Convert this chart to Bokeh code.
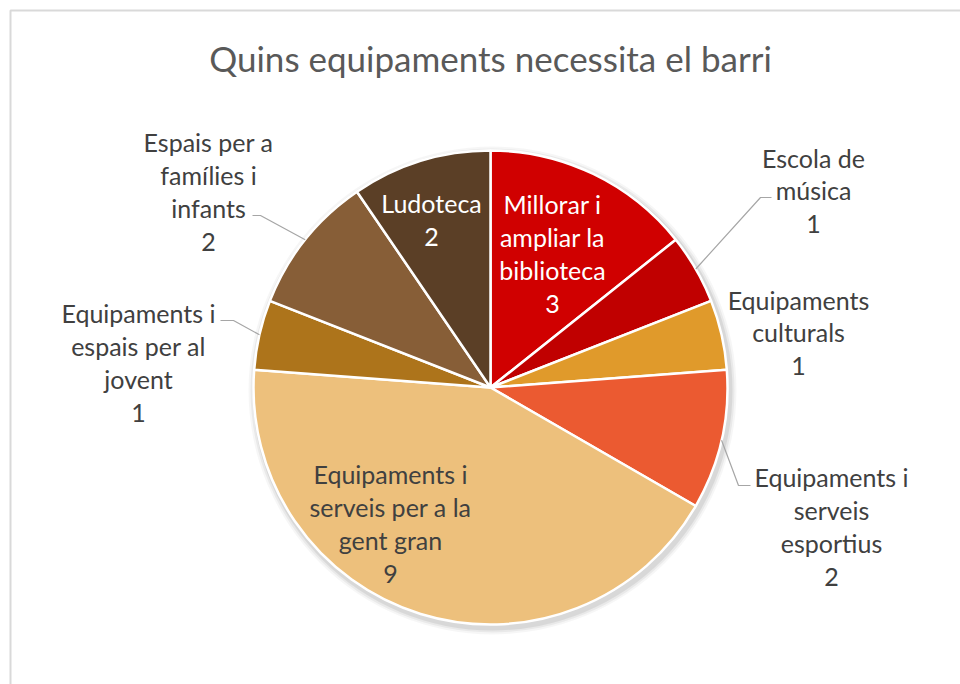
import math
from bokeh.plotting import figure
from bokeh.models import Range1d, ColumnDataSource
from bokeh.core.properties import value
from bokeh.embed import file_html
from bokeh.resources import INLINE

# ---- data ----
categories = [
    "Millorar i ampliar la biblioteca",
    "Escola de música",
    "Equipaments culturals",
    "Equipaments i serveis esportius",
    "Equipaments i serveis per a la gent gran",
    "Equipaments i espais per al jovent",
    "Espais per a famílies i infants",
    "Ludoteca",
]
counts = [3, 1, 1, 2, 9, 1, 2, 2]
colors = ["#D00000", "#C00000", "#E09A2B", "#EB5A31",
          "#EDC07C", "#AD741B", "#875E37", "#5B3F26"]
wrapped = [
    "Millorar i\nampliar la\nbiblioteca",
    "Escola de\nmúsica",
    "Equipaments\nculturals",
    "Equipaments i\nserveis\nesportius",
    "Equipaments i\nserveis per a la\ngent gran",
    "Equipaments i\nespais per al\njovent",
    "Espais per a\nfamílies i\ninfants",
    "Ludoteca",
]
title_text = "Quins equipaments necessita el barri"

# ---- layout (page pixel coordinates) ----
W, H = 960, 684
def py(y):  # page y -> data y (y up)
    return H - y

CX, CY, R = 490, py(387), 237
label_pos = [(552, 253), (813, 190), (798, 332), (831, 526),
             (390, 523), (138, 362), (208, 191), (431, 219)]
label_color = ["white", "#404040", "#404040", "#404040",
               "#404040", "#404040", "#404040", "white"]
leader = [None, ((760, 197), (771, 197)), None, ((738, 485), (750, 485)),
          None, ((233, 320), (220, 320)), ((260, 215), (252, 215)), None]

p = figure(width=W, height=H, output_backend="svg", toolbar_location=None,
           x_range=Range1d(0, W), y_range=Range1d(0, H),
           min_border=0, outline_line_color=None)
p.axis.visible = False
p.grid.visible = False
p.background_fill_color = "white"
p.border_fill_color = "white"

# chart border (left/top visible)
p.quad(left=[10], right=[2000], top=[py(10)], bottom=[-1000],
       fill_color=None, line_color="#D9D9D9", line_width=2)

# title
p.text(x=[490], y=[py(57)], text=[title_text], text_align="center",
       text_baseline="middle", text_font=value("Lato"),
       text_font_size="35px", text_color="#595959")

# soft shadow
for k, a in [(7, 0.035), (5, 0.05), (3, 0.07)]:
    p.circle(x=[CX + 2], y=[CY - 3], radius=R + k, fill_color="#000000",
             fill_alpha=a, line_color=None)

# wedges
total = sum(counts)
starts, ends, mids = [], [], []
cum = 0
for v in counts:
    a0 = math.pi / 2 - 2 * math.pi * cum / total
    a1 = math.pi / 2 - 2 * math.pi * (cum + v) / total
    starts.append(a1)
    ends.append(a0)
    mids.append((a0 + a1) / 2)
    cum += v
src = ColumnDataSource(dict(start=starts, end=ends, color=colors, cat=categories, n=counts))
p.wedge(x=CX, y=CY, radius=R, start_angle="start", end_angle="end",
        fill_color="color", line_color="white", line_width=2.5, source=src)

# leader lines
for i, ld in enumerate(leader):
    if ld is None:
        continue
    sx = CX + R * math.cos(mids[i])
    sy = CY + R * math.sin(mids[i])
    (ex, ey), (fx, fy) = ld
    p.line(x=[sx, ex, fx], y=[sy, py(ey), py(fy)], line_color="#A6A6A6", line_width=1.2)

# labels
for i in range(len(categories)):
    lx, ly = label_pos[i]
    p.text(x=[lx], y=[py(ly)], text=[wrapped[i] + "\n" + str(counts[i])],
           text_align="center", text_baseline="middle",
           text_font=value("Lato"), text_font_size="25px",
           text_line_height=1.09, text_color=label_color[i])

open("out.html", "w").write(file_html(p, INLINE))
